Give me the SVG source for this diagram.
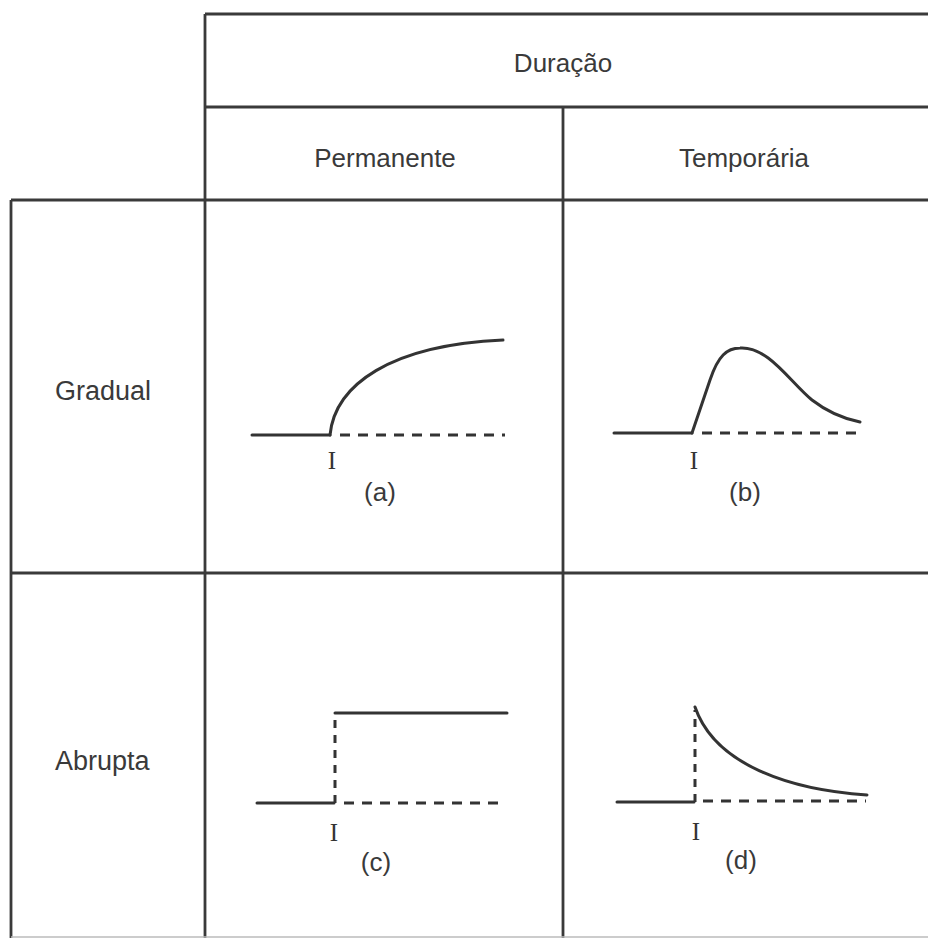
<svg xmlns="http://www.w3.org/2000/svg" width="928" height="938" viewBox="0 0 928 938">
<style>
.grid{stroke:#3a3a3a;stroke-width:2.8;fill:none}
.solid{stroke:#333;stroke-width:3;fill:none;stroke-linecap:round}
.dash{stroke:#333;stroke-width:3;fill:none;stroke-dasharray:10 8}
.vdash{stroke:#333;stroke-width:3;fill:none;stroke-dasharray:8 7}
.lbl{font-family:"Liberation Sans",Arial,sans-serif;font-size:27px;fill:#3a3a3a}
.hdr{font-family:"Liberation Sans",Arial,sans-serif;font-size:26px;fill:#3a3a3a;text-anchor:middle}
.cap{font-family:"Liberation Sans",Arial,sans-serif;font-size:26px;fill:#3a3a3a;text-anchor:middle}
.iv{font-family:"Liberation Serif","Times New Roman",serif;font-size:25px;fill:#333;text-anchor:middle}
</style>
<rect width="928" height="938" fill="#fff"/>
<g id="grid">
<line class="grid" x1="205" y1="14" x2="928" y2="14"/>
<line class="grid" x1="205" y1="107" x2="928" y2="107"/>
<line class="grid" x1="11" y1="200" x2="928" y2="200"/>
<line class="grid" x1="11" y1="573" x2="928" y2="573"/>
<line class="grid" x1="205" y1="14" x2="205" y2="938"/>
<line class="grid" x1="563" y1="107" x2="563" y2="938"/>
<line class="grid" x1="11" y1="200" x2="11" y2="938"/>
<line x1="11" y1="937" x2="928" y2="937" stroke="#bbb" stroke-width="1.5"/>
</g>
<g id="header-duracao"><text class="hdr" x="563" y="72">Duração</text></g>
<g id="header-permanente"><text class="hdr" x="385" y="167">Permanente</text></g>
<g id="header-temporaria"><text class="hdr" x="744" y="167">Temporária</text></g>
<g id="row-gradual"><text class="lbl" x="55" y="400">Gradual</text></g>
<g id="row-abrupta"><text class="lbl" x="55" y="770">Abrupta</text></g>
<g id="plot-a">
<line class="solid" x1="252" y1="435" x2="330" y2="435"/>
<line class="dash" x1="340" y1="435" x2="505" y2="435"/>
<path class="solid" d="M330,435 C335,385 390,345 503,340"/>
<text class="iv" x="332" y="469">I</text>
<text class="cap" x="380" y="501">(a)</text>
</g>
<g id="plot-b">
<line class="solid" x1="614" y1="433" x2="692" y2="433"/>
<line class="dash" x1="702" y1="433" x2="864" y2="433"/>
<path class="solid" d="M692,433 L710,380 C718,356 727,348 740,348 C768,346 790,382 812,400 C830,414 845,419 860,422"/>
<text class="iv" x="694" y="469">I</text>
<text class="cap" x="745" y="501">(b)</text>
</g>
<g id="plot-c">
<line class="solid" x1="257" y1="803" x2="334" y2="803"/>
<line class="vdash" x1="335" y1="803" x2="335" y2="713"/>
<line class="solid" x1="335" y1="713" x2="507" y2="713"/>
<line class="dash" x1="344" y1="803" x2="506" y2="803"/>
<text class="iv" x="334" y="841">I</text>
<text class="cap" x="376" y="871">(c)</text>
</g>
<g id="plot-d">
<line class="solid" x1="617" y1="802" x2="694" y2="802"/>
<line class="vdash" x1="695" y1="802" x2="695" y2="710"/>
<path class="solid" d="M695,707 C715,765 790,790 867,795"/>
<line class="dash" x1="703" y1="801" x2="866" y2="801"/>
<text class="iv" x="696" y="840">I</text>
<text class="cap" x="741" y="869">(d)</text>
</g>
</svg>
